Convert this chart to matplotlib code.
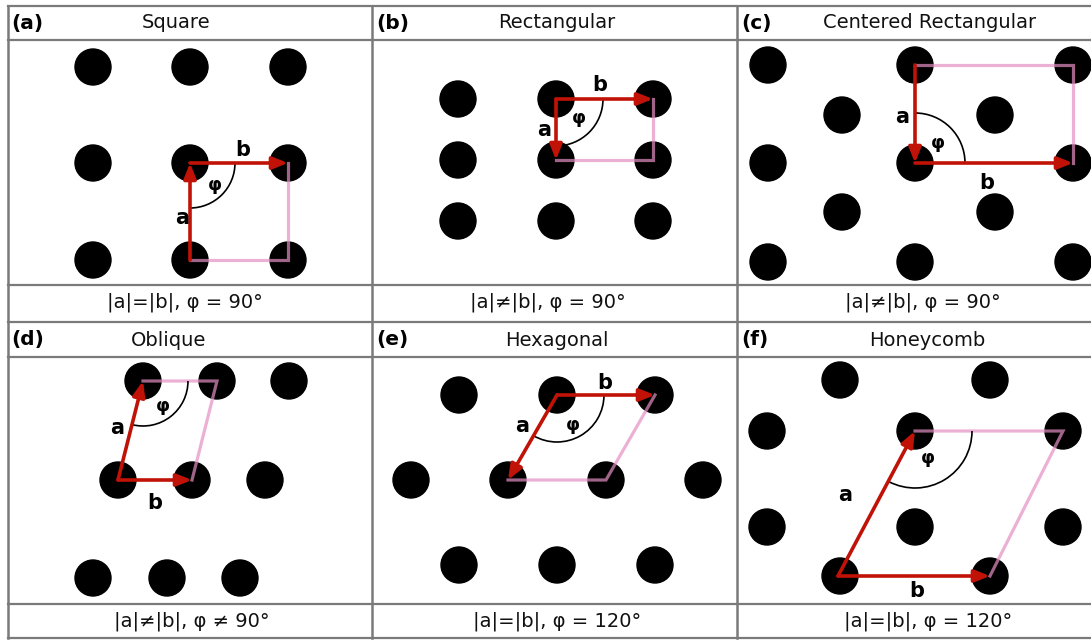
import numpy as np
import matplotlib
matplotlib.use("Agg")
import matplotlib.pyplot as plt
from matplotlib.patches import Circle, Arc

# lattice points for each panel (pixel coordinates, y grows downward)
square_x = [93, 190, 288, 93, 190, 288, 93, 190, 288]
square_y = [67, 67, 67, 163, 163, 163, 260, 260, 260]

rect_x = [458, 556, 653, 458, 556, 653, 458, 556, 653]
rect_y = [99, 99, 99, 160, 160, 160, 221, 221, 221]

crect_x = [768, 915, 1073, 842, 995, 768, 915, 1073, 842, 995, 768, 915, 1073]
crect_y = [65, 65, 65, 115, 115, 163, 163, 163, 212, 212, 262, 262, 262]

obl_x = [143, 217, 289, 118, 192, 265, 93, 167, 240]
obl_y = [381, 381, 381, 480, 480, 480, 578, 578, 578]

hex_x = [459, 557, 655, 411, 508, 606, 703, 459, 557, 655]
hex_y = [395, 395, 395, 480, 480, 480, 480, 565, 565, 565]

honey_x = [840, 990, 767, 915, 1063, 767, 915, 1063, 840, 990]
honey_y = [380, 380, 431, 431, 431, 527, 527, 527, 576, 576]

# lattice vectors: (start, end) for a and b
vec_a = [((190, 260), (190, 163)), ((556, 99), (556, 160)), ((915, 65), (915, 163)),
         ((118, 480), (143, 381)), ((557, 395), (508, 480)), ((838, 576), (915, 431))]
vec_b = [((190, 163), (288, 163)), ((556, 99), (653, 99)), ((915, 163), (1073, 163)),
         ((118, 480), (192, 480)), ((557, 395), (655, 395)), ((838, 576), (990, 576))]

# remaining unit-cell edges
cell_x = [[288, 288, 190], [653, 653, 556], [915, 1073, 1073],
          [143, 217, 192], [655, 606, 508], [915, 1063, 990]]
cell_y = [[163, 260, 260], [99, 160, 160], [65, 65, 163],
          [381, 381, 480], [395, 480, 480], [431, 431, 576]]

# angle arc: centre, radius, end points of the two sides
arc_center = [(190, 163), (556, 99), (915, 163), (143, 381), (557, 395), (915, 431)]
arc_radius = [45, 47, 50, 45, 47, 57]
arc_to_a = [(190, 260), (556, 160), (915, 65), (118, 480), (508, 480), (840, 576)]
arc_to_b = [(288, 163), (653, 99), (1073, 163), (217, 381), (655, 395), (1063, 431)]

label_a = [(182, 218), (544, 130), (902, 117), (117, 428), (522, 426), (845, 495)]
label_b = [(243, 150), (600, 85), (987, 183), (155, 503), (605, 383), (917, 591)]
label_phi = [(215, 185), (579, 118), (938, 143), (163, 406), (573, 425), (928, 458)]

tags = ["(a)", "(b)", "(c)", "(d)", "(e)", "(f)"]
titles = ["Square", "Rectangular", "Centered Rectangular", "Oblique", "Hexagonal", "Honeycomb"]
title_pos = [(176, 23), (557, 23), (930, 23), (169, 340), (557, 340), (927, 340)]
tag_pos = [(11, 23), (376, 23), (741, 23), (11, 340), (376, 340), (741, 340)]
conditions = ["|a|=|b|, φ = 90°", "|a|≠|b|, φ = 90°", "|a|≠|b|, φ = 90°",
              "|a|≠|b|, φ ≠ 90°", "|a|=|b|, φ = 120°", "|a|=|b|, φ = 120°"]
cond_pos = [(185, 302), (548, 302), (923, 302), (192, 621), (557, 621), (928, 621)]

dots = [(square_x, square_y), (rect_x, rect_y), (crect_x, crect_y),
        (obl_x, obl_y), (hex_x, hex_y), (honey_x, honey_y)]

RED = "#c01206"
PINK = "#e48fc3"
GRID = "#7a7a7a"

fig = plt.figure(figsize=(10.91, 6.40), dpi=100)
ax = fig.add_axes([0, 0, 1, 1])
ax.set_xlim(0, 1091)
ax.set_ylim(640, 0)
ax.axis("off")

# panel frame
for y in [6, 40, 285, 322, 357, 604, 638]:
    ax.plot([8, 1091], [y, y], color=GRID, lw=1.6, zorder=0)
for x in [8, 372, 737]:
    ax.plot([x, x], [6, 638], color=GRID, lw=1.8, zorder=0)

for i in range(6):
    xs, ys = dots[i]
    for x, y in zip(xs, ys):
        ax.add_patch(Circle((x, y), 18, color="black", zorder=1))

    ax.plot(cell_x[i], cell_y[i], color=PINK, lw=2.3, alpha=0.7,
            solid_joinstyle="miter", zorder=2)

    for start, end in (vec_a[i], vec_b[i]):
        ax.annotate("", xy=end, xytext=start,
                    arrowprops=dict(arrowstyle="-|>,head_length=0.65,head_width=0.26",
                                    color=RED, lw=2.6, shrinkA=0, shrinkB=0,
                                    mutation_scale=14), zorder=3)

    cx, cy = arc_center[i]
    ang_a = np.degrees(np.arctan2(arc_to_a[i][1] - cy, arc_to_a[i][0] - cx)) % 360
    ang_b = np.degrees(np.arctan2(arc_to_b[i][1] - cy, arc_to_b[i][0] - cx)) % 360
    t1, t2 = sorted([ang_a, ang_b])
    if t2 - t1 > 180:
        t1, t2 = t2, t1
    r = arc_radius[i]
    ax.add_patch(Arc((cx, cy), 2 * r, 2 * r, theta1=t1, theta2=t2,
                     color="black", lw=1.2, zorder=2))

    ax.text(*label_a[i], "a", fontsize=15, fontweight="bold", ha="center", va="center", zorder=4)
    ax.text(*label_b[i], "b", fontsize=15, fontweight="bold", ha="center", va="center", zorder=4)
    ax.text(*label_phi[i], "φ", fontsize=13, fontweight="bold", ha="center", va="center", zorder=4)

    ax.text(*tag_pos[i], tags[i], fontsize=14.5, fontweight="bold", ha="left", va="center")
    ax.text(*title_pos[i], titles[i], fontsize=14, ha="center", va="center", color="#111111")
    ax.text(*cond_pos[i], conditions[i], fontsize=14, ha="center", va="center", color="#111111")

fig.savefig("out.png", dpi=100)
